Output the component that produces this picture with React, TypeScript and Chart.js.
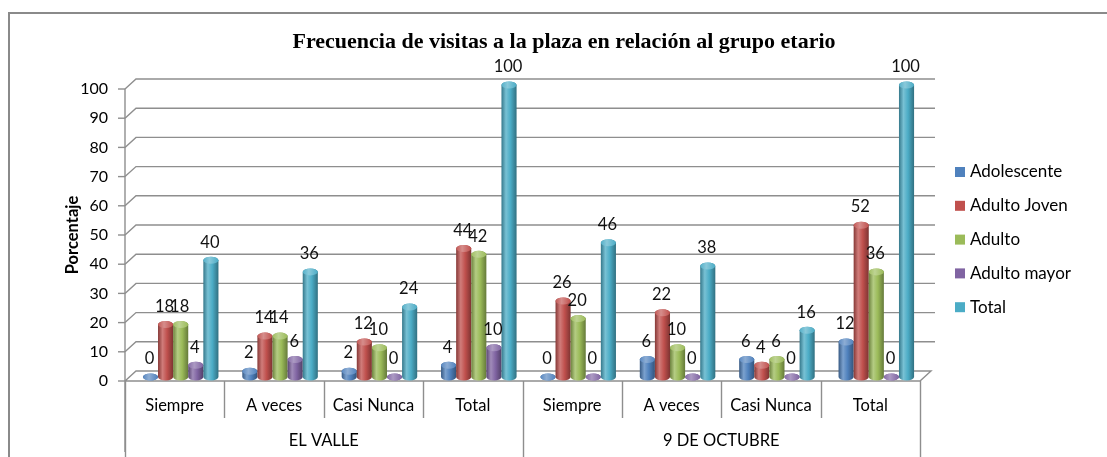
import React, { useEffect, useRef } from "react";
import { Chart, registerables } from "chart.js";
Chart.register(...registerables);

const categories = ["Siempre", "A veces", "Casi Nunca", "Total", "Siempre", "A veces", "Casi Nunca", "Total"];
const groups = ["EL VALLE", "9 DE OCTUBRE"];
const seriesNames = ["Adolescente", "Adulto Joven", "Adulto", "Adulto mayor", "Total"];
const adolescente = [0, 2, 2, 4, 0, 6, 6, 12];
const adultoJoven = [18, 14, 12, 44, 26, 22, 4, 52];
const adulto = [18, 14, 10, 42, 20, 10, 6, 36];
const adultoMayor = [4, 6, 0, 10, 0, 0, 0, 0];
const total = [40, 36, 24, 100, 46, 38, 16, 100];
const seriesColors = ["#4F81BD", "#C0504D", "#9BBB59", "#8064A2", "#4BACC6"];
const yTicks = [0, 10, 20, 30, 40, 50, 60, 70, 80, 90, 100];
const titleText = "Frecuencia de visitas a la plaza en relación al grupo etario";
const yTitle = "Porcentaje";

const FONT = "Lato, 'Open Sans', sans-serif";
const GRID = "#8e8e8e";
const DX = 11, DY = 10; // 3D depth offset of back wall
const BX = 6, BY = -4; // bar offset (mid depth)

function shade(hex: string, f: number) {
  const n = parseInt(hex.slice(1), 16);
  let r = (n >> 16) & 255, g = (n >> 8) & 255, b = n & 255;
  if (f >= 0) {
    r = r + (255 - r) * f; g = g + (255 - g) * f; b = b + (255 - b) * f;
  } else {
    r = r * (1 + f); g = g * (1 + f); b = b * (1 + f);
  }
  return `rgb(${Math.round(r)},${Math.round(g)},${Math.round(b)})`;
}

const decorPlugin = {
  id: "decor",
  beforeDatasetsDraw(chart: any) {
    const ctx = chart.ctx;
    const ca = chart.chartArea;
    const ys = chart.scales.y;
    const xs = chart.scales.x;
    ctx.save();
    // frame
    ctx.strokeStyle = "#8a8a8a";
    ctx.lineWidth = 2;
    ctx.beginPath();
    ctx.moveTo(9, 457);
    ctx.lineTo(9, 13);
    ctx.lineTo(1107, 13);
    ctx.stroke();

    // title
    ctx.fillStyle = "#000";
    ctx.font = "bold 22px 'Liberation Serif', serif";
    ctx.textAlign = "center";
    ctx.textBaseline = "middle";
    ctx.fillText(titleText, 564, 42);

    // back wall gridlines
    ctx.strokeStyle = GRID;
    ctx.lineWidth = 1.4;
    yTicks.forEach((v) => {
      const y = ys.getPixelForValue(v);
      ctx.beginPath();
      if (v === 0) {
        ctx.moveTo(ca.left, y);
        ctx.lineTo(ca.right, y);
        ctx.lineTo(ca.right + DX, y - DY);
        ctx.lineTo(ca.left + DX, y - DY);
        ctx.lineTo(ca.left, y);
      } else {
        ctx.moveTo(ca.left, y);
        ctx.lineTo(ca.left + DX, y - DY);
        ctx.lineTo(ca.right + DX + 4, y - DY);
      }
      ctx.stroke();
      // tick mark
      ctx.beginPath();
      ctx.moveTo(ca.left - 7, y);
      ctx.lineTo(ca.left, y);
      ctx.stroke();
      // label
      ctx.fillStyle = "#000";
      ctx.font = `16px ${FONT}`;
      ctx.textAlign = "right";
      ctx.textBaseline = "middle";
      ctx.fillText(String(v), ca.left - 17, y);
    });
    // side wall vertical
    ctx.beginPath();
    ctx.moveTo(ca.left, ys.getPixelForValue(100));
    ctx.lineTo(ca.left, 452);
    ctx.stroke();

    // y title
    ctx.save();
    ctx.translate(73, 235);
    ctx.rotate(-Math.PI / 2);
    ctx.font = `bold 16.5px ${FONT}`;
    ctx.textAlign = "center";
    ctx.textBaseline = "middle";
    ctx.fillStyle = "#000";
    ctx.fillText(yTitle, 0, 0);
    ctx.restore();

    // x category labels & dividers
    const n = categories.length;
    const cw = (ca.right - ca.left) / n;
    for (let k = 0; k <= n; k++) {
      const x = Math.round(ca.left + k * cw) + 0.5;
      const outer = k % 4 === 0;
      ctx.beginPath();
      ctx.moveTo(x, ca.bottom);
      ctx.lineTo(x, outer ? 457 : 418);
      ctx.stroke();
    }
    ctx.fillStyle = "#000";
    ctx.font = `16.5px ${FONT}`;
    ctx.textAlign = "center";
    ctx.textBaseline = "middle";
    categories.forEach((c, i) => {
      ctx.fillText(c, xs.getPixelForValue(i), 406);
    });
    groups.forEach((g, gi) => {
      const x0 = ca.left + gi * 4 * cw;
      const x1 = x0 + 4 * cw;
      ctx.fillText(g, (x0 + x1) / 2, 441);
    });

    // legend
    ctx.textAlign = "left";
    ctx.font = `17px ${FONT}`;
    chart.data.datasets.forEach((ds: any, i: number) => {
      const yc = 172 + i * 33.8;
      ctx.fillStyle = ds.backgroundColor;
      ctx.fillRect(955, yc - 5, 10, 10);
      ctx.fillStyle = "#000";
      ctx.fillText(ds.label, 970, yc);
    });
    ctx.restore();
  },
  beforeDatasetDraw() {
    return false;
  },
  afterDatasetsDraw(chart: any) {
    const ctx = chart.ctx;
    ctx.save();
    const labels: any[] = [];
    chart.data.datasets.forEach((ds: any, di: number) => {
      const meta = chart.getDatasetMeta(di);
      meta.data.forEach((el: any, i: number) => {
        const color = ds.backgroundColor;
        const w = el.width;
        const cx = el.x + BX;
        const top = el.y + BY;
        const base = el.base + BY;
        const rx = w / 2;
        const ry = 3.5;
        const l = cx - rx, r = cx + rx;
        const grad = ctx.createLinearGradient(l, 0, r, 0);
        grad.addColorStop(0, shade(color, -0.3));
        grad.addColorStop(0.3, shade(color, 0.25));
        grad.addColorStop(0.6, color);
        grad.addColorStop(1, shade(color, -0.35));
        ctx.fillStyle = grad;
        ctx.beginPath();
        ctx.moveTo(l, top);
        ctx.lineTo(l, base);
        ctx.ellipse(cx, base, rx, ry, 0, Math.PI, 0, true);
        ctx.lineTo(r, top);
        ctx.ellipse(cx, top, rx, ry, 0, 0, -Math.PI, true);
        ctx.closePath();
        ctx.fill();
        const tg = ctx.createLinearGradient(l, 0, r, 0);
        tg.addColorStop(0, shade(color, 0.05));
        tg.addColorStop(0.4, shade(color, 0.35));
        tg.addColorStop(1, shade(color, 0.0));
        ctx.fillStyle = tg;
        ctx.beginPath();
        ctx.ellipse(cx, top, rx, ry, 0, 0, Math.PI * 2);
        ctx.fill();
        labels.push({ x: cx - 1, y: el.y - 22, t: String(ds.data[i]) });
      });
    });
    ctx.fillStyle = "#111";
    ctx.font = `16.5px ${FONT}`;
    ctx.textAlign = "center";
    ctx.textBaseline = "middle";
    labels.forEach((p) => ctx.fillText(p.t, p.x, p.y));
    ctx.restore();
  },
};

export default function App() {
  const ref = useRef<HTMLCanvasElement | null>(null);
  useEffect(() => {
    if (!ref.current) return;
    const series = [adolescente, adultoJoven, adulto, adultoMayor, total];
    const chart = new Chart(ref.current, {
      type: "bar",
      data: {
        labels: categories,
        datasets: series.map((d, i) => ({
          label: seriesNames[i],
          data: d,
          backgroundColor: seriesColors[i],
          borderWidth: 0,
          categoryPercentage: 0.76,
          barPercentage: 1.0,
        })),
      },
      options: {
        responsive: false,
        animation: false,
        devicePixelRatio: 1,
        layout: { padding: { left: 125, right: 187, top: 89, bottom: 76 } },
        plugins: { legend: { display: false }, title: { display: false }, tooltip: { enabled: false } },
        scales: {
          x: { display: false, offset: true },
          y: { display: false, min: 0, max: 100 },
        },
      },
      plugins: [decorPlugin],
    } as any);
    return () => chart.destroy();
  }, []);
  return (
    <div style={{ position: "fixed", left: 0, top: 0, width: 1107, height: 457, background: "#fff" }}>
      <canvas ref={ref} width={1107} height={457} style={{ width: 1107, height: 457, display: "block" }} />
    </div>
  );
}
